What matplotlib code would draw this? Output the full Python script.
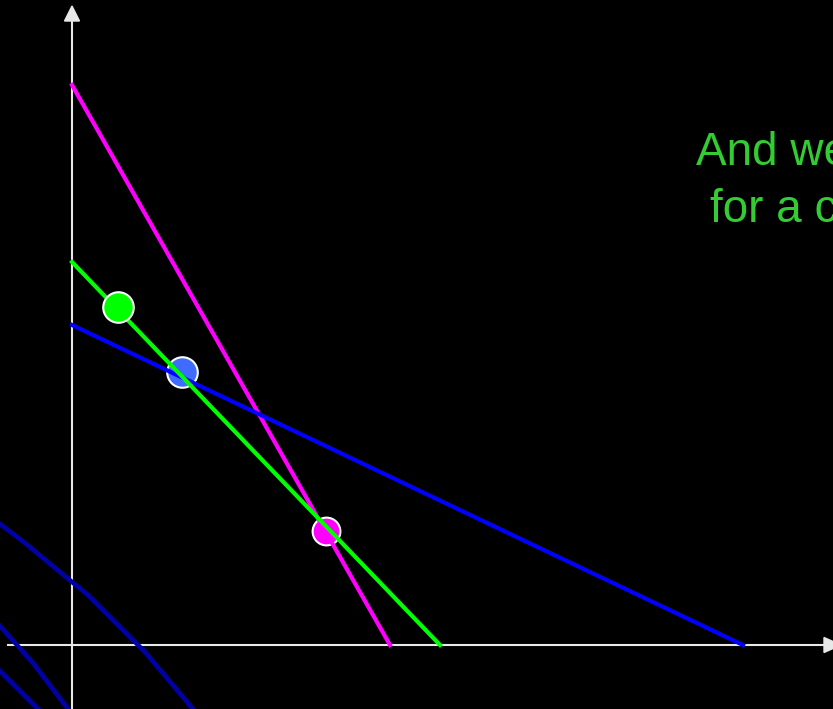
import matplotlib.pyplot as plt
from matplotlib.patches import Polygon

# budget lines: (y intercept, x intercept)
magenta_line = [56.0, 31.8]
green_line = [38.3, 36.8]
blue_line = [32.0, 67.1]

# chosen points
pt_green = [4.6, 33.8]
pt_blue = [11.0, 27.3]
pt_magenta = [25.4, 11.4]

# dark blue curves (partly off the picture)
c1_x = [-8.0, -7.2, -4.7, 0.0, 1.6, 6.6, 7.3, 12.1, 13.0]
c1_y = [12.6, 12.1, 10.2, 6.3, 5.0, 0.0, -0.7, -6.4, -7.5]
c2_x = [-8.0, -7.2, -3.9, -0.4, 0.5]
c2_y = [2.8, 1.9, -1.8, -6.4, -7.5]
c3_x = [-8.0, -7.2, -3.4, -2.5]
c3_y = [-1.9, -2.6, -6.4, -7.3]

fig = plt.figure(figsize=(8.33, 7.09), dpi=100, facecolor='black')
ax = fig.add_axes([0, 0, 1, 1])
ax.set_facecolor('black')
ax.set_xlim(-7.2, 76.1)
ax.set_ylim(-6.4, 64.5)
ax.axis('off')

axcol = '#E8E8E8'
ax.plot([0, 0], [-7, 62.6], color=axcol, lw=1.5, zorder=1)
ax.plot([-6.4, 75.4], [0, 0], color=axcol, lw=1.5, zorder=1)
ax.add_patch(Polygon([[0, 63.9], [-0.75, 62.4], [0.75, 62.4]], closed=True, color=axcol, zorder=1))
ax.add_patch(Polygon([[76.9, 0], [75.2, 0.75], [75.2, -0.75]], closed=True, color=axcol, zorder=1))

for cx, cy in [(c1_x, c1_y), (c2_x, c2_y), (c3_x, c3_y)]:
    ax.plot(cx, cy, color='#0000A8', lw=3.3, zorder=2)

ax.plot(pt_blue[0], pt_blue[1], 'o', ms=22, mfc='#3F6BFF', mec='white', mew=1.5, zorder=2)
ax.plot(pt_magenta[0], pt_magenta[1], 'o', ms=20, mfc='#FF00FF', mec='white', mew=1.5, zorder=2)

ax.plot([0, magenta_line[1]], [magenta_line[0], 0], color='#FF00FF', lw=3, zorder=3)
ax.plot([0, blue_line[1]], [blue_line[0], 0], color='#0000FF', lw=3, zorder=3)
ax.plot([0, green_line[1]], [green_line[0], 0], color='#00FF00', lw=3, zorder=3.5)

ax.plot(pt_green[0], pt_green[1], 'o', ms=22, mfc='#00FF00', mec='white', mew=1.5, zorder=4)

fig.text(696 / 833, 1 - 165 / 709, "And we", color='#33CC33', fontsize=33,
         family='Liberation Sans', ha='left', va='baseline')
fig.text(710 / 833, 1 - 222 / 709, "for a c", color='#33CC33', fontsize=33,
         family='Liberation Sans', ha='left', va='baseline')

fig.savefig('out.png', dpi=100, facecolor='black')
